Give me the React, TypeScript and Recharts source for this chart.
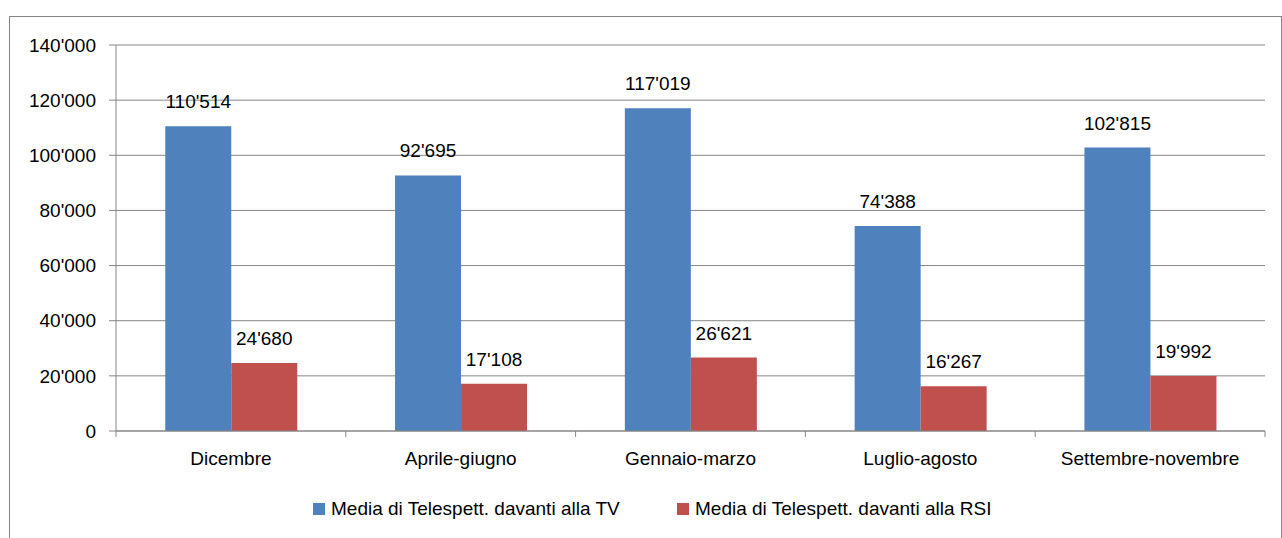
import React from "react";
import { BarChart, Bar, XAxis, YAxis, CartesianGrid, LabelList } from "recharts";

const categories = ["Dicembre", "Aprile-giugno", "Gennaio-marzo", "Luglio-agosto", "Settembre-novembre"];
const tvValues = [110514, 92695, 117019, 74388, 102815];
const rsiValues = [24680, 17108, 26621, 16267, 19992];
const yTicks = [0, 20000, 40000, 60000, 80000, 100000, 120000, 140000];
const seriesNames = ["Media di Telespett. davanti alla TV", "Media di Telespett. davanti alla RSI"];
const seriesColors = ["#4F81BD", "#C0504D"];

const data = categories.map((c, i) => ({ name: c, tv: tvValues[i], rsi: rsiValues[i] }));

const FONT = '"Liberation Sans", Arial, sans-serif';
const GRAY = "#868686";
const W = 1282;
const H = 538;
const MARGIN = { top: 45, right: 17, bottom: 0, left: 0 };
const Y_WIDTH = 116;
const X_HEIGHT = 107;

const fmt = (v: any) => {
  const n = Number(v);
  if (!isFinite(n)) return "";
  return Math.round(n).toString().replace(/\B(?=(\d{3})+(?!\d))/g, "'");
};

const CategoryTick = (props: any) => {
  const { x, y, payload, index } = props;
  const fallback = (W - Y_WIDTH - MARGIN.right - MARGIN.left) / categories.length / 2;
  const half = payload && typeof payload.offset === "number" && payload.offset > 0 ? payload.offset : fallback;
  const last = index === categories.length - 1;
  return (
    <g>
      <line x1={x - half} y1={y} x2={x - half} y2={y + 6} stroke={GRAY} strokeWidth={1} />
      {last && <line x1={x + half} y1={y} x2={x + half} y2={y + 6} stroke={GRAY} strokeWidth={1} />}
      <text x={x} y={y + 21} dy="0.71em" textAnchor="middle" fill="#000" fontSize={19} fontFamily={FONT}>
        {payload.value}
      </text>
    </g>
  );
};

const LegendBlock = () => {
  const lefts = [313, 677];
  return (
    <div style={{ position: "absolute", left: 0, top: 499, width: W, height: 24 }}>
      {seriesNames.map((name, i) => (
        <div key={i} style={{ position: "absolute", left: lefts[i], top: 0, height: 24 }}>
          <div style={{ position: "absolute", left: 0, top: 4, width: 12, height: 12, background: seriesColors[i] }} />
          <div
            style={{
              position: "absolute",
              left: 18,
              top: 0,
              whiteSpace: "nowrap",
              fontFamily: FONT,
              fontSize: 19,
              lineHeight: "19px",
              color: "#000",
            }}
          >
            {name}
          </div>
        </div>
      ))}
    </div>
  );
};

export default function App() {
  return (
    <div style={{ position: "fixed", left: 0, top: 0, width: W, height: H, overflow: "hidden", background: "#fff" }}>
      <div
        style={{
          position: "absolute",
          left: 9,
          top: 16,
          width: 1271,
          height: 600,
          border: `1px solid ${GRAY}`,
        }}
      />
      <div style={{ position: "absolute", left: 0, top: 0 }}>
        <BarChart
          width={W}
          height={H}
          data={data}
          margin={MARGIN}
          barCategoryGap="21.43%"
          barGap={0}
        >
          <CartesianGrid vertical={false} stroke={GRAY} strokeWidth={1} />
          <XAxis
            dataKey="name"
            height={X_HEIGHT}
            axisLine={{ stroke: GRAY }}
            tickLine={false}
            tickSize={0}
            tickMargin={0}
            interval={0}
            tick={<CategoryTick />}
          />
          <YAxis
            width={Y_WIDTH}
            domain={[0, 140000]}
            ticks={yTicks}
            interval={0}
            axisLine={{ stroke: GRAY }}
            tickLine={{ stroke: GRAY }}
            tickSize={7}
            tickMargin={13}
            tickFormatter={fmt}
            tick={{ fill: "#000", fontSize: 19, fontFamily: FONT }}
          />
          <Bar dataKey="tv" name={seriesNames[0]} fill={seriesColors[0]} isAnimationActive={false}>
            <LabelList dataKey="tv" position="top" offset={18} formatter={fmt} fill="#000" fontSize={19} fontFamily={FONT} />
          </Bar>
          <Bar dataKey="rsi" name={seriesNames[1]} fill={seriesColors[1]} isAnimationActive={false}>
            <LabelList dataKey="rsi" position="top" offset={18} formatter={fmt} fill="#000" fontSize={19} fontFamily={FONT} />
          </Bar>
        </BarChart>
      </div>
      <LegendBlock />
    </div>
  );
}
